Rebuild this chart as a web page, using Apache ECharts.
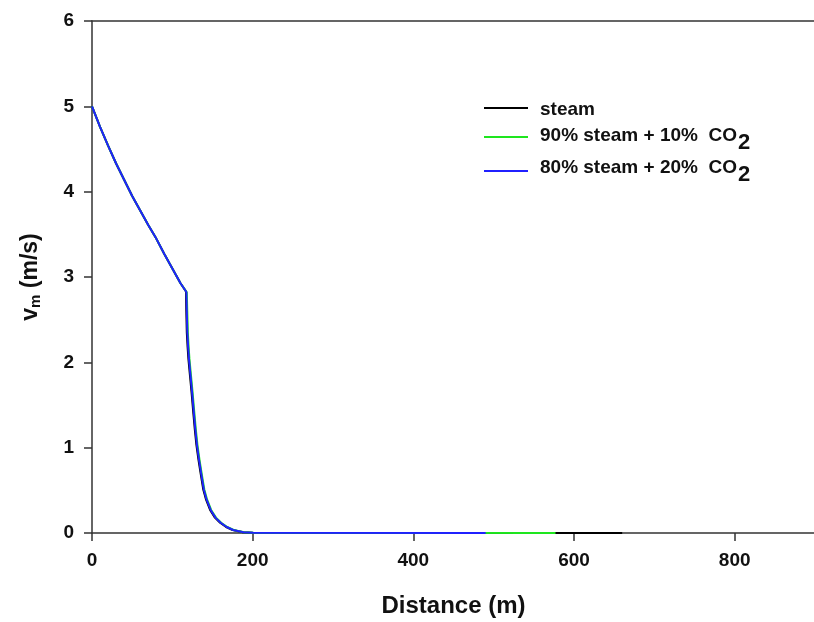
<!DOCTYPE html>
<html>
<head>
<meta charset="utf-8">
<script src="https://cdn.jsdelivr.net/npm/echarts@6/dist/echarts.min.js"></script>
<style>
  html, body { margin: 0; padding: 0; background: #fff; overflow: hidden; }
  #chart { width: 814px; height: 622px; }
</style>
</head>
<body>
<div id="chart"></div>
<script>
// Mixture velocity along the well for three injection compositions
const seriesNames = ['steam', '90% steam + 10% CO2', '80% steam + 20% CO2'];

const distSteam = [0, 10, 20, 30, 40, 50, 60, 70, 80, 90, 100, 110, 117, 117.4, 118, 119, 120, 122, 124, 126, 128, 130, 132.5, 135, 138.5, 142, 147, 153, 159.5, 167, 175, 188, 200, 660];
const velSteam  = [5.00, 4.76, 4.54, 4.33, 4.14, 3.95, 3.78, 3.61, 3.45, 3.27, 3.10, 2.93, 2.83, 2.60, 2.35, 2.18, 2.04, 1.84, 1.64, 1.42, 1.21, 1.03, 0.86, 0.71, 0.51, 0.39, 0.27, 0.18, 0.12, 0.07, 0.035, 0.01, 0.002, 0];

const distCO2a = [0, 10, 20, 30, 40, 50, 60, 70, 80, 90, 100, 110, 118, 118.6, 119.3, 120.3, 121.3, 123.3, 125.3, 127.3, 129.3, 131.3, 133.8, 136.3, 139.8, 143.3, 148.3, 154.3, 160.8, 168.3, 176.3, 189.3, 201, 577];
const velCO2a  = [5.00, 4.76, 4.54, 4.33, 4.14, 3.95, 3.78, 3.61, 3.45, 3.27, 3.10, 2.93, 2.82, 2.60, 2.35, 2.18, 2.04, 1.84, 1.64, 1.42, 1.21, 1.03, 0.86, 0.71, 0.51, 0.39, 0.27, 0.18, 0.12, 0.07, 0.035, 0.01, 0.002, 0];

const distCO2b = [0, 10, 20, 30, 40, 50, 60, 70, 80, 90, 100, 110, 117.5, 118, 118.7, 119.7, 120.7, 122.7, 124.7, 126.7, 128.7, 130.7, 133.2, 135.7, 139.2, 142.7, 147.7, 153.7, 160.2, 167.7, 175.7, 188.7, 200.5, 490];
const velCO2b  = [5.00, 4.76, 4.54, 4.33, 4.14, 3.95, 3.78, 3.61, 3.45, 3.27, 3.10, 2.93, 2.825, 2.60, 2.35, 2.18, 2.04, 1.84, 1.64, 1.42, 1.21, 1.03, 0.86, 0.71, 0.51, 0.39, 0.27, 0.18, 0.12, 0.07, 0.035, 0.01, 0.002, 0];

const xTicks = [0, 200, 400, 600, 800];
const yTicks = [0, 1, 2, 3, 4, 5, 6];

const colors = ['#000000', '#1ee61e', '#2020ff'];

function pairs(xs, ys) { return xs.map((x, i) => [x, ys[i]]); }

const fontFam = '"Liberation Sans", Arial, sans-serif';
const ink = '#111';
const tickLabel = { fontFamily: fontFam, fontWeight: 'bold', fontSize: 19, color: ink };

// Legend: sample line + label (with subscript 2 on CO2) per series
const legendRows = [
  { lineY: 108, textY: 100.5 },
  { lineY: 137, textY: 126 },
  { lineY: 171, textY: 158 }
];
const legendRich = {
  t: { fontFamily: fontFam, fontWeight: 'bold', fontSize: 19, lineHeight: 20, fill: ink, verticalAlign: 'top' },
  s: { fontFamily: fontFam, fontWeight: 'bold', fontSize: 22, lineHeight: 22, fill: ink, verticalAlign: 'top', padding: [6, 0, 0, 1] }
};
const legendGraphics = [];
seriesNames.forEach((name, i) => {
  const row = legendRows[i];
  legendGraphics.push({
    type: 'line', silent: true,
    shape: { x1: 484, y1: row.lineY, x2: 528, y2: row.lineY },
    style: { stroke: colors[i], lineWidth: 2 }
  });
  const label = name.endsWith('CO2') ? '{t|' + name.slice(0, -4) + '  CO}{s|2}' : '{t|' + name + '}';
  legendGraphics.push({
    type: 'text', silent: true, x: 540, y: row.textY,
    style: { text: label, rich: legendRich, verticalAlign: 'top', align: 'left' }
  });
});

const chart = echarts.init(document.getElementById('chart'), null, { renderer: 'canvas' });

chart.setOption({
  animation: false,
  backgroundColor: '#ffffff',
  grid: { left: 92, top: 21, width: 723, height: 512, containLabel: false, outerBoundsMode: 'none' },
  graphic: legendGraphics,
  xAxis: [{
    type: 'value',
    min: 0,
    max: 900,
    interval: 200,
    position: 'bottom',
    name: 'Distance (m)',
    nameLocation: 'middle',
    nameGap: 61,
    nameTextStyle: { fontFamily: fontFam, fontWeight: 'bold', fontSize: 24, color: ink },
    axisLine: { show: true, onZero: false, lineStyle: { color: '#333', width: 1.5 } },
    axisTick: { show: true, inside: false, length: 8, lineStyle: { color: '#333', width: 1.5 } },
    axisLabel: Object.assign({ margin: 18, formatter: v => xTicks.includes(v) ? String(v) : '' }, tickLabel),
    splitLine: { show: false }
  }, {
    type: 'value',
    min: 0,
    max: 900,
    position: 'top',
    axisLine: { show: true, onZero: false, lineStyle: { color: '#333', width: 1.5 } },
    axisTick: { show: false },
    axisLabel: { show: false },
    splitLine: { show: false }
  }],
  yAxis: {
    type: 'value',
    min: 0,
    max: 6,
    interval: 1,
    name: '{a|v}{b|m}{a| (m/s)}',
    nameLocation: 'middle',
    nameGap: 49,
    nameRotate: 90,
    nameTextStyle: {
      rich: {
        a: { fontFamily: fontFam, fontWeight: 'bold', fontSize: 23, color: ink },
        b: { fontFamily: fontFam, fontWeight: 'bold', fontSize: 15, color: ink, padding: [10, 0, 0, 0] }
      }
    },
    axisLine: { show: true, onZero: false, lineStyle: { color: '#333', width: 1.5 } },
    axisTick: { show: true, inside: false, length: 8, lineStyle: { color: '#333', width: 1.5 } },
    axisLabel: Object.assign({ margin: 18, formatter: v => yTicks.includes(v) ? String(v) : '' }, tickLabel),
    splitLine: { show: false }
  },
  series: [
    { name: seriesNames[0], type: 'line', data: pairs(distSteam, velSteam), showSymbol: false, z: 2,
      lineStyle: { color: colors[0], width: 2 }, itemStyle: { color: colors[0] } },
    { name: seriesNames[1], type: 'line', data: pairs(distCO2a, velCO2a), showSymbol: false, z: 3,
      lineStyle: { color: colors[1], width: 2 }, itemStyle: { color: colors[1] } },
    { name: seriesNames[2], type: 'line', data: pairs(distCO2b, velCO2b), showSymbol: false, z: 4,
      lineStyle: { color: colors[2], width: 2 }, itemStyle: { color: colors[2] } }
  ]
});
</script>
</body>
</html>
